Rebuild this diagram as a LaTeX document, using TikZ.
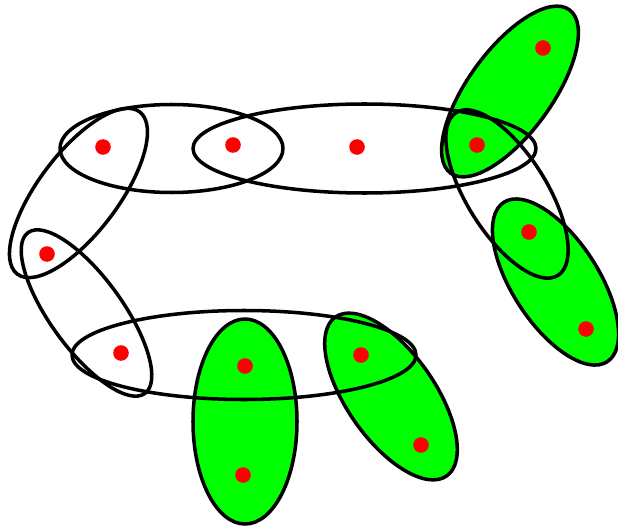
\documentclass[tikz,border=0pt]{standalone}
\usepackage{tikz}
\definecolor{hgreen}{RGB}{0,255,0}
\tikzset{
	edgeline/.style={draw=black, line width=2pt},
	edgefill/.style={fill=hgreen},
	vertexdot/.style={fill=red},
}
\begin{document}
\begin{tikzpicture}[x=0.02cm, y=0.02cm, line join=round, line cap=round]
	\useasboundingbox (0,0) rectangle (618,528);
	% vertices
	\foreach \vname/\px/\py in {a/103/381, b/233/383, c/357/381, d/477/383, e/543/480,
		f/529/296, g/586/199, h/47/274, i/121/175, j/245/162, k/361/173, l/421/83, m/243/53}
		\coordinate (\vname) at (\px,\py);
	% green edges first
	\foreach \ename/\cx/\cy/\rx/\ry/\ang in {ed/510/436.5/101/42/54, fg/555.5/246/95/43/-57,
		kl/391/131.5/97/44/-55, jm/245/106.5/52/102.5/0}
	{
		\coordinate (\ename) at (\cx,\cy);
		\fill[edgefill, rotate around={\ang:(\ename)}] (\ename) ellipse [x radius=\rx, y radius=\ry];
	}
	% outlines on top
	\foreach \ename/\cx/\cy/\rx/\ry/\ang in {ab/171.5/379.5/111.5/44/0, bcd/364.5/379.5/171.5/44.5/0,
		ah/78.5/335/101.6/40/53, hi/86.5/215/99.4/36/-54, ijk/244/173/172/44.5/0, df/507/334/96/40/-58,
		ed/510/436.5/101/42/54, fg/555.5/246/95/43/-57, kl/391/131.5/97/44/-55, jm/245/106.5/52/102.5/0}
	{
		\coordinate (\ename) at (\cx,\cy);
		\draw[edgeline, rotate around={\ang:(\ename)}] (\ename) ellipse [x radius=\rx, y radius=\ry];
	}
	% dots
	\foreach \vname in {a,b,c,d,e,f,g,h,i,j,k,l,m}
		\fill[vertexdot] (\vname) circle [radius=7.8];
\end{tikzpicture}
\end{document}
